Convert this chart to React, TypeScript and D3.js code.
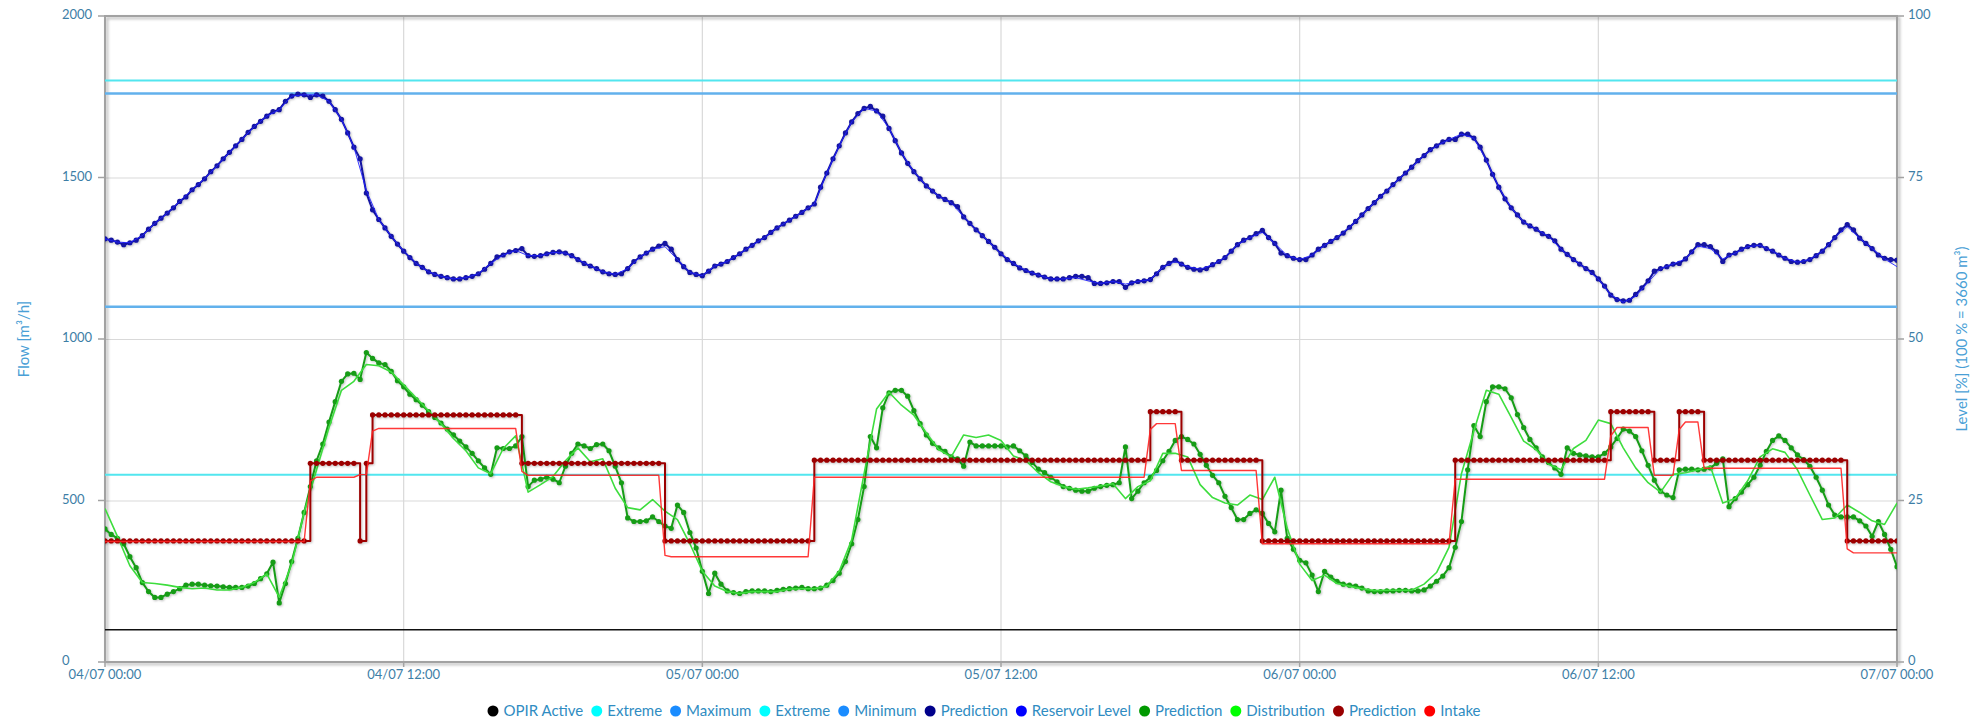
import React, { useEffect, useRef } from "react";
import * as d3 from "d3";

// ---------- time frame ----------
const START = Date.UTC(2023, 6, 4, 0, 0);
const END = Date.UTC(2023, 6, 7, 0, 0);
const PRED_STEP_MIN = 15;
const MEAS_STEP_MIN = 30;

// ---------- reservoir level [%] ----------
const levelPrediction = [
  65.5, 65.3, 65.0, 64.6, 64.9, 65.3, 66.0, 67.0, 67.9, 68.7,
  69.5, 70.3, 71.3, 72.0, 73.1, 73.9, 74.8, 75.9, 76.8, 77.9,
  78.9, 79.9, 80.9, 82.0, 82.9, 83.7, 84.5, 85.2, 85.5, 86.8,
  87.6, 87.9, 87.8, 87.4, 87.8, 87.6, 86.8, 85.5, 84.0, 81.9,
  79.7, 77.9, 72.6, 70.0, 68.5, 67.2, 65.9, 64.7, 63.6, 62.6,
  61.7, 61.1, 60.4, 60.0, 59.7, 59.5, 59.3, 59.3, 59.5, 59.7,
  60.1, 60.8, 61.7, 62.7, 63.0, 63.5, 63.7, 64.0, 62.9, 62.8,
  62.9, 63.2, 63.4, 63.5, 63.3, 62.9, 62.3, 61.7, 61.3, 60.9,
  60.4, 60.1, 60.0, 60.1, 60.9, 62.0, 62.7, 63.3, 63.9, 64.4,
  64.8, 63.9, 62.3, 61.2, 60.3, 60.0, 59.8, 60.5, 61.3, 61.6,
  62.0, 62.6, 63.2, 63.9, 64.5, 65.2, 65.7, 66.5, 67.2, 67.8,
  68.4, 69.0, 69.6, 70.3, 70.9, 73.5, 75.7, 77.9, 79.9, 81.9,
  83.6, 84.9, 85.7, 86.0, 85.3, 84.5, 82.6, 80.7, 78.8, 77.2,
  75.9, 74.8, 73.7, 72.9, 72.1, 71.6, 71.1, 70.5, 68.9, 67.9,
  66.9, 66.0, 65.1, 64.2, 63.2, 62.3, 61.7, 61.0, 60.6, 60.2,
  59.9, 59.6, 59.3, 59.3, 59.3, 59.5, 59.7, 59.7, 59.5, 58.6,
  58.6, 58.7, 58.9, 58.9, 58.0, 58.7, 58.9, 59.0, 59.2, 60.1,
  61.1, 61.7, 62.2, 61.6, 61.1, 60.8, 60.7, 60.9, 61.5, 62.0,
  62.6, 63.6, 64.6, 65.3, 65.7, 66.3, 66.8, 65.7, 64.8, 63.3,
  62.9, 62.5, 62.3, 62.3, 63.0, 63.9, 64.5, 65.1, 65.7, 66.4,
  67.3, 68.2, 69.2, 70.2, 71.1, 72.1, 72.9, 73.9, 74.8, 75.7,
  76.6, 77.6, 78.4, 79.3, 79.9, 80.5, 80.9, 80.9, 81.7, 81.7,
  81.1, 79.7, 77.7, 75.5, 73.5, 71.7, 70.3, 69.2, 68.1, 67.5,
  67.0, 66.3, 65.9, 65.2, 63.9, 63.1, 62.3, 61.6, 60.9, 60.3,
  59.3, 58.2, 56.8, 56.1, 55.9, 56.0, 56.9, 57.9, 59.0, 60.5,
  60.9, 61.2, 61.6, 61.7, 62.4, 63.5, 64.6, 64.6, 64.3, 63.5,
  62.0, 63.0, 63.3, 63.9, 64.3, 64.5, 64.5, 64.0, 63.6, 63.0,
  62.5, 62.0, 61.9, 62.0, 62.3, 62.9, 63.6, 64.6, 65.7, 66.9,
  67.7, 66.9, 65.6, 64.8, 64.0, 63.0, 62.5, 62.3, 62.2,
];

const reservoirLevel = [
  65.5, 65.0, 64.9, 66.0, 67.9, 69.5, 71.3, 73.1, 74.8, 76.8,
  78.9, 80.9, 82.9, 84.5, 85.5, 87.6, 87.8, 87.8, 86.8, 84.0,
  79.7, 73.0, 68.5, 65.9, 63.6, 61.7, 60.4, 59.7, 59.3, 59.5,
  60.1, 61.7, 63.0, 63.7, 62.9, 62.9, 63.4, 63.3, 62.3, 61.3,
  60.4, 60.0, 60.9, 62.7, 63.9, 64.3, 62.3, 60.3, 59.8, 61.3,
  62.0, 63.2, 64.5, 65.7, 67.2, 68.4, 69.6, 70.9, 75.7, 79.9,
  83.6, 85.7, 85.3, 82.6, 78.8, 75.9, 73.7, 72.1, 71.1, 68.9,
  66.9, 65.1, 63.2, 61.7, 60.6, 59.9, 59.3, 59.3, 59.5, 59.0,
  58.6, 58.9, 58.5, 58.9, 59.2, 61.1, 62.0, 61.2, 60.8, 61.5,
  62.6, 64.6, 65.7, 66.5, 64.8, 62.9, 62.3, 63.0, 64.5, 65.7,
  67.3, 69.2, 71.1, 72.9, 74.8, 76.6, 78.4, 79.9, 80.9, 81.7,
  81.1, 77.7, 73.5, 70.3, 68.1, 67.0, 65.9, 63.9, 62.3, 60.9,
  59.3, 56.8, 55.7, 56.6, 58.8, 60.9, 61.6, 62.4, 64.4, 64.0,
  62.4, 63.3, 64.3, 64.5, 63.6, 62.5, 61.9, 62.3, 63.6, 65.7,
  67.4, 65.6, 64.0, 62.4, 61.2,
];

// ---------- distribution flow [m3/h] ----------
const distributionPrediction = [
  412, 395, 383, 366, 326, 292, 246, 218, 200, 200,
  210, 218, 227, 238, 241, 241, 238, 236, 235, 233,
  231, 231, 231, 235, 243, 258, 273, 309, 183, 243,
  311, 383, 463, 543, 623, 675, 743, 806, 869, 892,
  894, 875, 958, 940, 926, 921, 900, 871, 852, 829,
  812, 795, 775, 757, 740, 721, 703, 684, 666, 646,
  623, 601, 581, 663, 661, 661, 669, 698, 543, 563,
  566, 572, 566, 555, 606, 646, 675, 669, 661, 673,
  675, 654, 606, 555, 446, 435, 435, 437, 449, 435,
  421, 414, 486, 463, 401, 353, 281, 212, 275, 241,
  220, 215, 212, 218, 220, 220, 220, 218, 222, 225,
  227, 229, 231, 227, 227, 229, 238, 252, 275, 311,
  366, 441, 543, 698, 663, 787, 833, 841, 841, 823,
  778, 738, 703, 677, 663, 652, 635, 629, 606, 681,
  669, 669, 669, 669, 669, 666, 669, 654, 638, 618,
  597, 586, 572, 558, 543, 538, 532, 529, 529, 538,
  543, 547, 549, 555, 666, 506, 529, 555, 572, 593,
  623, 652, 686, 698, 689, 675, 643, 609, 578, 555,
  513, 478, 441, 441, 460, 471, 460, 429, 403, 532,
  383, 349, 315, 307, 269, 218, 281, 263, 250, 241,
  238, 235, 229, 220, 218, 218, 220, 220, 222, 222,
  220, 220, 223, 235, 250, 266, 292, 355, 435, 595,
  732, 698, 806, 852, 852, 846, 818, 766, 726, 689,
  663, 635, 618, 601, 581, 663, 646, 641, 638, 635,
  635, 646, 666, 692, 721, 715, 698, 654, 609, 563,
  529, 517, 509, 595, 597, 597, 595, 597, 601, 615,
  629, 481, 506, 526, 549, 572, 609, 652, 686, 700,
  686, 663, 641, 627, 606, 572, 532, 486, 455, 449,
  449, 449, 437, 421, 389, 435, 395, 349, 295,
];

const distribution = [
  475, 389, 298, 246, 243, 238, 231, 227, 229, 223,
  223, 231, 246, 273, 201, 303, 463, 595, 726, 841,
  869, 921, 917, 898, 858, 818, 778, 738, 692, 654,
  601, 583, 661, 700, 526, 549, 574, 623, 663, 620,
  629, 538, 478, 471, 503, 467, 441, 366, 281, 235,
  218, 212, 218, 218, 218, 226, 227, 227, 235, 281,
  378, 583, 783, 835, 795, 764, 709, 658, 635, 703,
  695, 703, 686, 638, 623, 586, 558, 543, 535, 539,
  545, 552, 506, 543, 561, 646, 646, 635, 549, 509,
  492, 486, 517, 503, 572, 414, 303, 252, 269, 243,
  235, 227, 221, 222, 222, 222, 241, 277, 355, 583,
  715, 841, 829, 757, 684, 658, 612, 595, 661, 686,
  749, 738, 663, 601, 555, 526, 581, 586, 595, 606,
  492, 506, 561, 635, 660, 649, 595, 517, 441, 446,
  486, 463, 437, 426, 492,
];

// ---------- intake flow [m3/h] ----------
const intakePrediction = [
  375, 375, 375, 375, 375, 375, 375, 375, 375, 375,
  375, 375, 375, 375, 375, 375, 375, 375, 375, 375,
  375, 375, 375, 375, 375, 375, 375, 375, 375, 375,
  375, 375, 375, 615, 615, 615, 615, 615, 615, 615,
  615, 375, 615, 765, 765, 765, 765, 765, 765, 765,
  765, 765, 765, 765, 765, 765, 765, 765, 765, 765,
  765, 765, 765, 765, 765, 765, 765, 615, 615, 615,
  615, 615, 615, 615, 615, 615, 615, 615, 615, 615,
  615, 615, 615, 615, 615, 615, 615, 615, 615, 615,
  375, 375, 375, 375, 375, 375, 375, 375, 375, 375,
  375, 375, 375, 375, 375, 375, 375, 375, 375, 375,
  375, 375, 375, 375, 625, 625, 625, 625, 625, 625,
  625, 625, 625, 625, 625, 625, 625, 625, 625, 625,
  625, 625, 625, 625, 625, 625, 625, 625, 625, 625,
  625, 625, 625, 625, 625, 625, 625, 625, 625, 625,
  625, 625, 625, 625, 625, 625, 625, 625, 625, 625,
  625, 625, 625, 625, 625, 625, 625, 625, 775, 775,
  775, 775, 775, 625, 625, 625, 625, 625, 625, 625,
  625, 625, 625, 625, 625, 625, 375, 375, 375, 375,
  375, 375, 375, 375, 375, 375, 375, 375, 375, 375,
  375, 375, 375, 375, 375, 375, 375, 375, 375, 375,
  375, 375, 375, 375, 375, 375, 375, 625, 625, 625,
  625, 625, 625, 625, 625, 625, 625, 625, 625, 625,
  625, 625, 625, 625, 625, 625, 625, 625, 625, 625,
  625, 625, 775, 775, 775, 775, 775, 775, 775, 625,
  625, 625, 625, 775, 775, 775, 775, 625, 625, 625,
  625, 625, 625, 625, 625, 625, 625, 625, 625, 625,
  625, 625, 625, 625, 625, 625, 625, 625, 625, 625,
  375, 375, 375, 375, 375, 375, 375, 375, 375,
];

const intake = [
  373, 373, 373, 373, 373, 373, 373, 373, 373, 373,
  373, 373, 373, 373, 373, 373, 373, 373, 373, 373,
  373, 373, 373, 373, 373, 373, 373, 373, 373, 373,
  373, 373, 373, 560, 572, 572, 572, 572, 572, 572,
  572, 580, 580, 715, 723, 723, 723, 723, 723, 723,
  723, 723, 723, 723, 723, 723, 723, 723, 723, 723,
  723, 723, 723, 723, 723, 723, 723, 590, 578, 578,
  578, 578, 578, 578, 578, 578, 578, 578, 578, 578,
  578, 578, 578, 578, 578, 578, 578, 578, 578, 578,
  330, 326, 326, 326, 326, 326, 326, 326, 326, 326,
  326, 326, 326, 326, 326, 326, 326, 326, 326, 326,
  326, 326, 326, 326, 572, 572, 572, 572, 572, 572,
  572, 572, 572, 572, 572, 572, 572, 572, 572, 572,
  572, 572, 572, 572, 572, 572, 572, 572, 572, 572,
  572, 572, 572, 572, 572, 572, 572, 572, 572, 572,
  572, 572, 572, 572, 572, 572, 572, 572, 572, 572,
  572, 572, 572, 572, 572, 572, 572, 572, 720, 738,
  738, 738, 738, 593, 593, 593, 593, 593, 593, 593,
  593, 593, 593, 593, 593, 593, 366, 366, 366, 366,
  366, 366, 366, 366, 366, 366, 366, 366, 366, 366,
  366, 366, 366, 366, 366, 366, 366, 366, 366, 366,
  366, 366, 366, 366, 366, 366, 366, 566, 566, 566,
  566, 566, 566, 566, 566, 566, 566, 566, 566, 566,
  566, 566, 566, 566, 566, 566, 566, 566, 566, 566,
  566, 566, 700, 726, 726, 726, 726, 726, 726, 578,
  578, 578, 578, 720, 743, 743, 743, 600, 600, 600,
  600, 600, 600, 600, 600, 600, 600, 600, 600, 600,
  600, 600, 600, 600, 600, 600, 600, 600, 600, 600,
  350, 338, 338, 338, 338, 338, 338, 338, 338,
];

// ---------- constant lines ----------
const opirActive = 100; // flow
const extremeHigh = 90; // level %
const maximumLevel = 88;
const minimumLevel = 55;
const extremeLow = 29;

// ---------- axes ----------
const flowTicks = [0, 500, 1000, 1500, 2000];
const levelTicks = [0, 25, 50, 75, 100];

const legendLabels = [
  "OPIR Active", "Extreme", "Maximum", "Extreme", "Minimum",
  "Prediction", "Reservoir Level", "Prediction", "Distribution",
  "Prediction", "Intake",
];
const legendColors = [
  "#000000", "#00ffff", "#1a8cff", "#00ffff", "#1a8cff",
  "#00008b", "#0000ff", "#009900", "#00ff00", "#990000", "#ff0000",
];

export default function App() {
  const ref = useRef<SVGSVGElement>(null);

  useEffect(() => {
    const svg = d3.select(ref.current);
    svg.selectAll("*").remove();
    const W = 1980, H = 724;
    const L = 105, R = 1897, T = 16, B = 662;
    const FONT = "Lato, 'DejaVu Sans', sans-serif";

    const x = d3.scaleUtc().domain([START, END]).range([L, R]);
    const yFlow = d3.scaleLinear().domain([0, 2000]).range([B, T]);
    const yLevel = d3.scaleLinear().domain([0, 100]).range([B, T]);

    const defs = svg.append("defs");
    const sh = defs.append("filter").attr("id", "shadow")
      .attr("filterUnits", "userSpaceOnUse")
      .attr("x", 0).attr("y", 0).attr("width", W).attr("height", H);
    sh.append("feDropShadow").attr("dx", 1).attr("dy", 1)
      .attr("stdDeviation", 1.2).attr("flood-color", "#000").attr("flood-opacity", 0.25);
    const fsh = defs.append("filter").attr("id", "frameShadow")
      .attr("filterUnits", "userSpaceOnUse")
      .attr("x", 0).attr("y", 0).attr("width", W).attr("height", H);
    fsh.append("feDropShadow").attr("dx", 2).attr("dy", 2)
      .attr("stdDeviation", 1.5).attr("flood-color", "#000").attr("flood-opacity", 0.3);
    defs.append("clipPath").attr("id", "plotClip")
      .append("rect").attr("x", L).attr("y", T - 6).attr("width", R - L).attr("height", B - T + 6);

    svg.append("rect").attr("width", W).attr("height", H).attr("fill", "#ffffff");

    // grid
    const xTicks = x.ticks(d3.utcHour.every(12));
    const grid = svg.append("g");
    grid.selectAll("line.h").data(flowTicks).join("line")
      .attr("x1", L).attr("x2", R)
      .attr("y1", (d) => yFlow(d) + 0.5).attr("y2", (d) => yFlow(d) + 0.5)
      .attr("stroke", "#d9d9d9").attr("stroke-width", 1.2);
    grid.selectAll("line.v").data(xTicks).join("line")
      .attr("x1", (d) => x(d)).attr("x2", (d) => x(d))
      .attr("y1", T).attr("y2", B)
      .attr("stroke", "#d9d9d9").attr("stroke-width", 1.2);

    // frame
    svg.append("rect").attr("x", L).attr("y", T).attr("width", R - L).attr("height", B - T)
      .attr("fill", "none").attr("stroke", "#a2a2a2").attr("stroke-width", 2)
      .attr("filter", "url(#frameShadow)");

    // axis ticks
    const tk = svg.append("g").attr("stroke", "#a2a2a2").attr("stroke-width", 1.5);
    tk.selectAll("line.l").data(flowTicks).join("line")
      .attr("x1", L - 7).attr("x2", L).attr("y1", (d) => yFlow(d)).attr("y2", (d) => yFlow(d));
    tk.selectAll("line.r").data(levelTicks).join("line")
      .attr("x1", R).attr("x2", R + 7).attr("y1", (d) => yLevel(d)).attr("y2", (d) => yLevel(d));
    tk.selectAll("line.b").data(xTicks).join("line")
      .attr("x1", (d) => x(d)).attr("x2", (d) => x(d)).attr("y1", B).attr("y2", B + 5);

    // tick labels
    const tickColor = "#3d7ea6";
    const labels = svg.append("g").attr("font-family", FONT).attr("font-size", 13).attr("fill", tickColor);
    labels.selectAll("text.l").data(flowTicks).join("text")
      .attr("x", 62).attr("y", (d) => yFlow(d) + 3).text((d) => String(d));
    labels.selectAll("text.r").data(levelTicks).join("text")
      .attr("x", 1908).attr("y", (d) => yLevel(d) + 3).text((d) => String(d));
    const fmt = d3.utcFormat("%d/%m %H:%M");
    labels.selectAll("text.b").data(xTicks).join("text")
      .attr("x", (d) => x(d)).attr("y", 679).attr("text-anchor", "middle").text((d) => fmt(d));

    // axis titles
    const titleColor = "#4a9fd6";
    svg.append("text").attr("transform", `translate(23,${(T + B) / 2}) rotate(-90)`)
      .attr("text-anchor", "middle").attr("dominant-baseline", "central")
      .attr("font-family", FONT).attr("font-size", 15).attr("fill", titleColor)
      .text("Flow [m³/h]");
    svg.append("text").attr("transform", `translate(1961,${(T + B) / 2}) rotate(-90)`)
      .attr("text-anchor", "middle").attr("dominant-baseline", "central")
      .attr("font-family", FONT).attr("font-size", 15).attr("fill", titleColor)
      .text("Level [%] (100 % = 3660 m³)");

    const plot = svg.append("g").attr("clip-path", "url(#plotClip)");

    // constant lines
    const hline = (y: number, color: string, w: number) =>
      plot.append("line").attr("x1", x(START)).attr("x2", x(END))
        .attr("y1", y).attr("y2", y).attr("stroke", color).attr("stroke-width", w);
    hline(yFlow(opirActive), "#111111", 1.5);
    hline(yLevel(extremeHigh), "#52e6ef", 2);
    hline(yLevel(maximumLevel), "#62b1ec", 2.4);
    hline(yLevel(extremeLow), "#52e6ef", 2);
    hline(yLevel(minimumLevel), "#62b1ec", 2.4);

    const tPred = (i: number) => START + i * PRED_STEP_MIN * 60000;
    const tMeas = (i: number) => START + i * MEAS_STEP_MIN * 60000;

    const drawSeries = (
      values: number[], tf: (i: number) => number, y: d3.ScaleLinear<number, number>,
      color: string, width: number, curve: d3.CurveFactory, markers: boolean, opacity = 1, shadow = true,
    ) => {
      const g = plot.append("g");
      if (shadow) g.attr("filter", "url(#shadow)");
      const line = d3.line<number>().x((_, i) => x(tf(i))).y((d) => y(d)).curve(curve);
      g.append("path").attr("d", line(values) as string).attr("fill", "none")
        .attr("stroke", color).attr("stroke-width", width).attr("stroke-opacity", opacity)
        .attr("stroke-linejoin", "round");
      if (markers) {
        g.selectAll("circle").data(values).join("circle")
          .attr("cx", (_, i) => x(tf(i))).attr("cy", (d) => y(d)).attr("r", 2.6).attr("fill", color);
      }
    };

    drawSeries(levelPrediction, tPred, yLevel, "#1212a2", 2, d3.curveLinear, true);
    drawSeries(reservoirLevel, tMeas, yLevel, "#2020ff", 1, d3.curveLinear, false, 0.9, false);
    drawSeries(distributionPrediction, tPred, yFlow, "#169c16", 2, d3.curveLinear, true);
    drawSeries(distribution, tMeas, yFlow, "#3ddd3d", 1.6, d3.curveLinear, false, 1, false);
    drawSeries(intakePrediction, tPred, yFlow, "#9c0000", 2, d3.curveStepAfter, true);
    drawSeries(intake, tPred, yFlow, "#ff2222", 1.4, d3.curveLinear, false, 0.9, false);

    // legend
    const lg = svg.append("g").attr("font-family", FONT).attr("font-size", 15);
    const r = 5.5, gapIn = 5, gapOut = 8;
    const items = legendLabels.map((t, i) => {
      const g = lg.append("g");
      g.append("circle").attr("r", r).attr("fill", legendColors[i]);
      const txt = g.append("text").attr("x", r + gapIn).attr("y", 5).attr("fill", "#2f8cc2").text(t);
      const w = (txt.node() as SVGTextElement).getComputedTextLength();
      return { g, w: 2 * r + gapIn + w };
    });
    const total = d3.sum(items, (d) => d.w) + gapOut * (items.length - 1);
    let cx = 984 - total / 2;
    items.forEach((it) => {
      it.g.attr("transform", `translate(${cx + r},711)`);
      cx += it.w + gapOut;
    });
  }, []);

  return (
    <svg ref={ref} width={1980} height={724}
      style={{ position: "absolute", left: 0, top: 0, display: "block" }} />
  );
}
